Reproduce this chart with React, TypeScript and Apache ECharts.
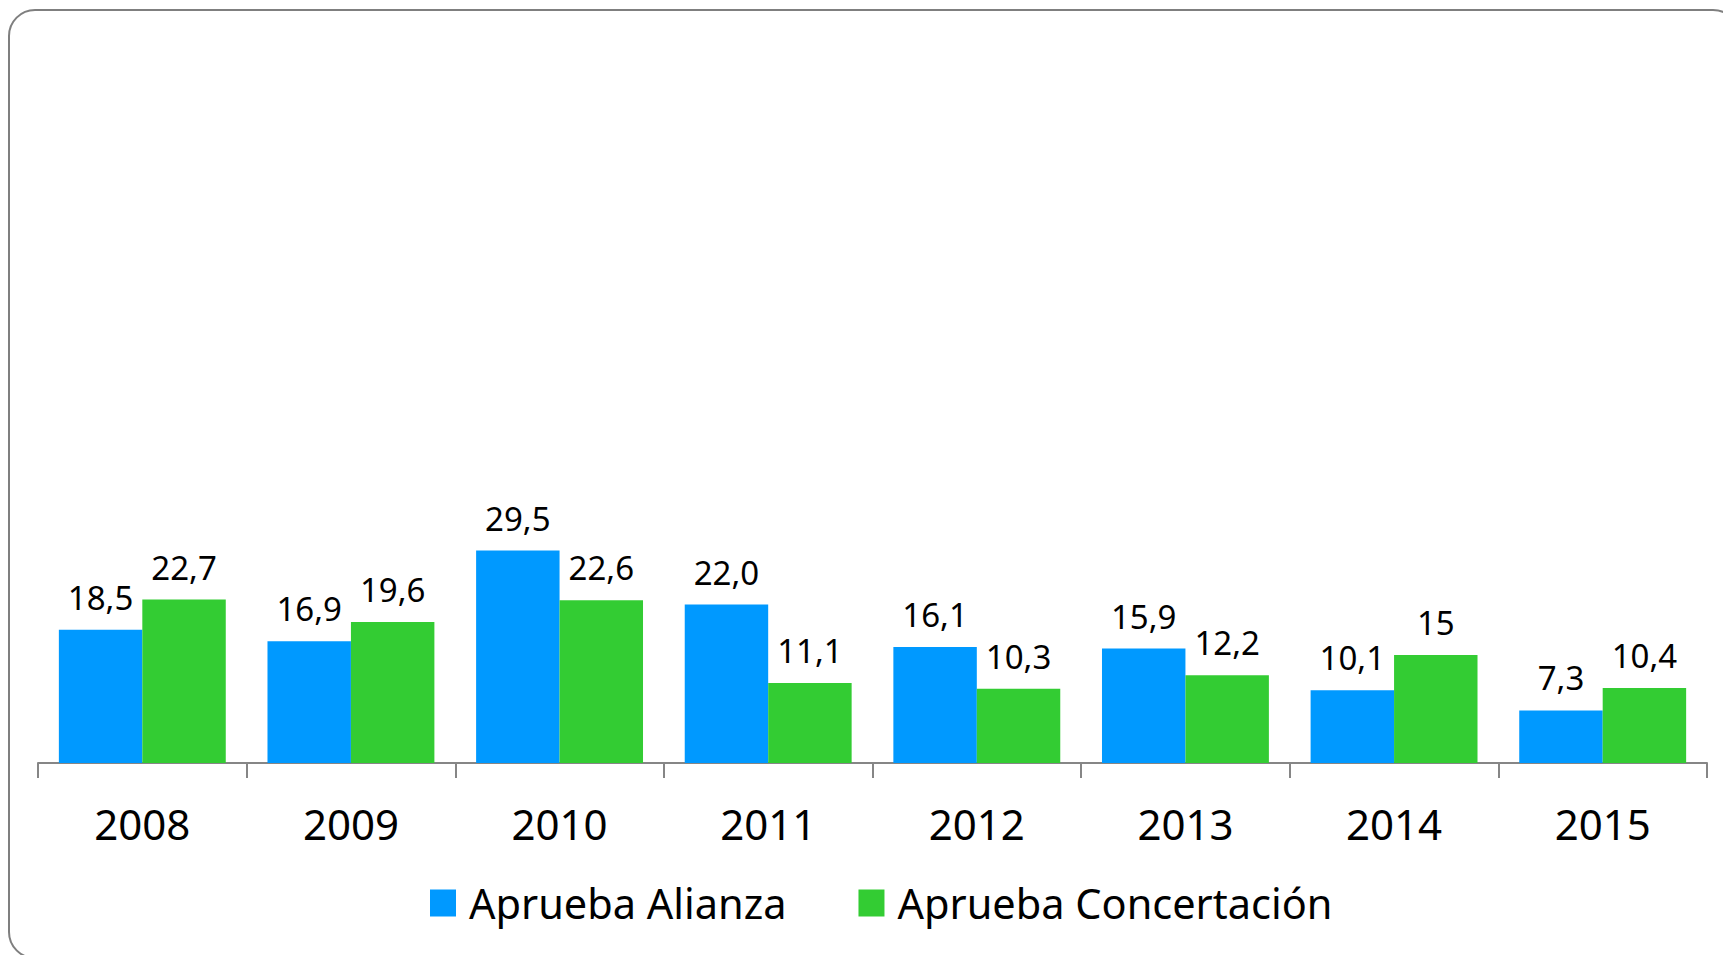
import React, { useEffect, useRef } from "react";
import * as echarts from "echarts";

const categories = ["2008", "2009", "2010", "2011", "2012", "2013", "2014", "2015"];
const alianza = [18.5, 16.9, 29.5, 22.0, 16.1, 15.9, 10.1, 7.3];
const concertacion = [22.7, 19.6, 22.6, 11.1, 10.3, 12.2, 15, 10.4];
const alianzaLabels = ["18,5", "16,9", "29,5", "22,0", "16,1", "15,9", "10,1", "7,3"];
const concertacionLabels = ["22,7", "19,6", "22,6", "11,1", "10,3", "12,2", "15", "10,4"];
const seriesNames = ["Aprueba Alianza", "Aprueba Concertación"];

const FONT = "'Noto Sans', sans-serif";

export default function App() {
  const ref = useRef<HTMLDivElement>(null);
  useEffect(() => {
    if (!ref.current) return;
    const chart = echarts.init(ref.current, undefined, { renderer: "svg" });
    const labelStyle = (labels: string[]) => ({
      show: true,
      position: "top",
      distance: 16,
      color: "#000",
      fontSize: 33,
      fontFamily: FONT,
      formatter: (p: any) => labels[p.dataIndex],
    });
    chart.setOption({
      animation: false,
      backgroundColor: "#fff",
      textStyle: { fontFamily: FONT },
      graphic: [
        {
          type: "rect",
          shape: { x: 9, y: 10, width: 1730, height: 948, r: 26 },
          style: { fill: "none", stroke: "#7f7f7f", lineWidth: 2 },
          silent: true,
        },
      ],
      grid: { left: 38, right: 16, top: 43, bottom: 192, containLabel: false },
      legend: {
        bottom: 26,
        left: 425,
        itemWidth: 26,
        itemHeight: 27,
        itemGap: 72,
        icon: "rect",
        textStyle: { fontSize: 41.5, color: "#000", fontFamily: FONT, padding: [0, 0, 0, 8] },
        data: seriesNames,
      },
      xAxis: {
        type: "category",
        data: categories,
        axisLine: { show: true, lineStyle: { color: "#868686", width: 2 } },
        axisTick: { show: true, length: 15, inside: false, lineStyle: { color: "#868686", width: 2 } },
        axisLabel: { color: "#000", fontSize: 42, fontFamily: FONT, margin: 39 },
      },
      yAxis: {
        type: "value",
        min: 0,
        max: 100,
        show: false,
        splitLine: { show: false },
      },
      series: [
        {
          name: seriesNames[0],
          type: "bar",
          data: alianza,
          barGap: "0%",
          barCategoryGap: "20%",
          itemStyle: { color: "#0099FF" },
          label: labelStyle(alianzaLabels),
        },
        {
          name: seriesNames[1],
          type: "bar",
          data: concertacion,
          barGap: "0%",
          barCategoryGap: "20%",
          itemStyle: { color: "#33CC33" },
          label: labelStyle(concertacionLabels),
        },
      ],
    });
    return () => chart.dispose();
  }, []);
  return (
    <div
      ref={ref}
      style={{ position: "absolute", left: 0, top: 0, width: 1723, height: 955, overflow: "hidden" }}
    />
  );
}
